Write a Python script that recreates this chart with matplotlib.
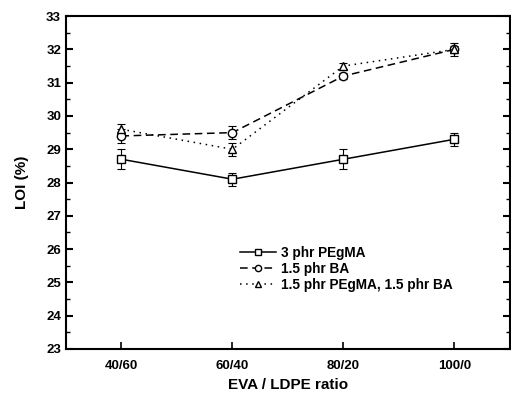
import matplotlib
matplotlib.use("Agg")
import matplotlib.pyplot as plt
from matplotlib.lines import Line2D
import numpy as np

plt.rcParams['font.family'] = ['Liberation Sans', 'DejaVu Sans']
plt.rcParams['font.weight'] = 'bold'
plt.rcParams['axes.labelweight'] = 'bold'

ratios = ["40/60", "60/40", "80/20", "100/0"]
pegma = [28.7, 28.1, 28.7, 29.3]
pegma_err = [0.3, 0.2, 0.3, 0.2]
ba = [29.4, 29.5, 31.2, 32.0]
ba_err = [0.2, 0.2, 0.1, 0.1]
both = [29.6, 29.0, 31.5, 32.0]
both_err = [0.15, 0.2, 0.1, 0.2]
labels = ['3 phr PEgMA', '1.5 phr BA', '1.5 phr PEgMA, 1.5 phr BA']
markers = ['s', 'o', '^']
styles = ['-', (0, (5, 3)), (0, (1, 3))]

x = np.arange(len(ratios))

fig = plt.figure(figsize=(5.11, 3.93), dpi=100)
ax = fig.add_axes([0.129, 0.112, 0.869, 0.847])

common = dict(color='black', capsize=3, elinewidth=0.8, capthick=0.8,
              markerfacecolor='white', markeredgecolor='black', markersize=6, linewidth=1.1)
for ys, es, m, ls in zip([pegma, ba, both], [pegma_err, ba_err, both_err], markers, styles):
    ax.errorbar(x, ys, yerr=es, marker=m, linestyle=ls, **common)

ax.set_xlim(-0.5, 3.5)
ax.set_ylim(23, 33)
ax.set_xticks(x)
ax.set_xticklabels(ratios)
ax.set_yticks(np.arange(23, 34, 1))
ax.set_yticks(np.arange(23.5, 33, 1), minor=True)
ax.tick_params(axis='y', which='both', direction='in', right=True, labelsize=9.5, width=1.5)
ax.tick_params(axis='y', which='major', length=5)
ax.tick_params(axis='y', which='minor', length=3, width=1)
ax.tick_params(axis='x', direction='in', length=5, width=1.2, labelsize=9.5, pad=8)
for s in ax.spines.values():
    s.set_linewidth(1.5)

ax.set_xlabel("EVA / LDPE ratio", fontsize=11, labelpad=4)
ax.set_ylabel("LOI (%)", fontsize=11, labelpad=12)

handles = [Line2D([], [], color='black', marker=m, linestyle=ls, linewidth=1.1,
                  markerfacecolor='white', markersize=4.5)
           for m, ls in zip(markers, styles)]
ax.legend(handles, labels, loc='lower left', bbox_to_anchor=(0.365, 0.135), frameon=False,
          fontsize=9.8, handlelength=2.6, handletextpad=0.4, labelspacing=0.15)

fig.savefig("out.png", dpi=100)
